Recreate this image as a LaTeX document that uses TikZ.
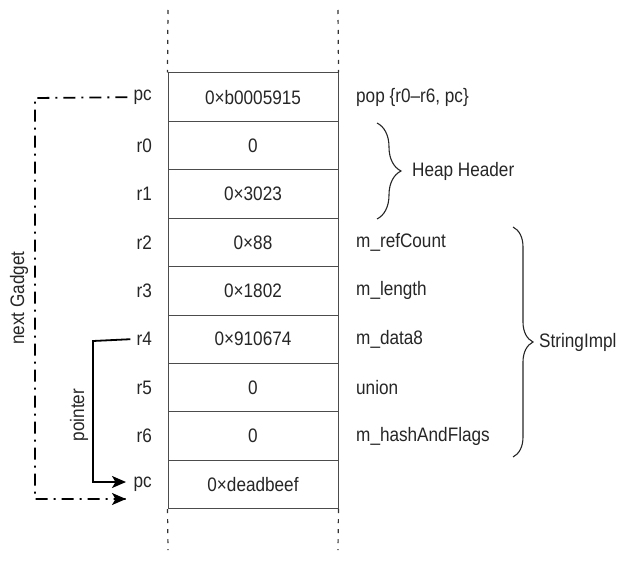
\documentclass[tikz,border=0pt]{standalone}
\usepackage{fontspec}
\setmainfont{Liberation Sans}[FakeStretch=0.88]
\usetikzlibrary{arrows.meta,decorations.pathreplacing}
\begin{document}
\begin{tikzpicture}[x=1pt,y=-1pt,
  every node/.style={font=\fontsize{19.5}{22}\selectfont, text=black!85},
  cell/.style={draw=black!70, line width=1pt, minimum width=170pt, minimum height=48.4pt, inner sep=0pt, anchor=center},
  lbl/.style={anchor=east, inner sep=0pt},
  rlbl/.style={anchor=west, inner sep=0pt},
  guide/.style={draw=black!80, line width=1.2pt, dash pattern=on 4pt off 6pt},
  dashdot/.style={draw=black, line width=1.8pt, dash pattern=on 12pt off 6pt on 2pt off 6pt},
  ptr/.style={draw=black, line width=1.8pt},
  tip/.style={-{Stealth[length=14pt,width=12pt,inset=3.5pt]}},
  bracestyle/.style={draw=black!85, line width=1.1pt, decorate}
]
\useasboundingbox (0,0) rectangle (636,575);
% cells
\foreach \v/\i [count=\k from 0] in {{0\texttimes b0005915}/c0,0/c1,{0\texttimes 3023}/c2,{0\texttimes 88}/c3,{0\texttimes 1802}/c4,{0\texttimes 910674}/c5,0/c6,0/c7,{0\texttimes deadbeef}/c8}
  \node[cell] (\i) at (253, 73+48.4*\k+24.2) {\v};
% left labels
\foreach \t/\i [count=\k from 0] in {pc/l0,r0/l1,r1/l2,r2/l3,r3/l4,r4/l5,r5/l6,r6/l7,pc/l8}
  \node[lbl] (\i) at (152, 73+48.4*\k+24.2) {\t};
% right labels
\node[rlbl] (p0) at (356, 73+24.2) {pop \{r0–r6, pc\}};
\node[rlbl] (p3) at (356, 73+48.4*3+24.2) {m\_refCount};
\node[rlbl] (p4) at (356, 73+48.4*4+24.2) {m\_length};
\node[rlbl] (p5) at (356, 73+48.4*5+24.2) {m\_data8};
\node[rlbl] (p6) at (356, 73+48.4*6+24.2) {union};
\node[rlbl] (p7) at (356, 73+48.4*7+24.2) {m\_hashAndFlags};
% guides
\coordinate (gt1) at (168,10);
\coordinate (gt2) at (338,10);
\coordinate (gb1) at (168,550);
\coordinate (gb2) at (338,550);
\draw[guide] (gt1) -- (c0.north west);
\draw[guide] (gt2) -- (c0.north east);
\draw[guide] (c8.south west) -- (gb1);
\draw[guide] (c8.south east) -- (gb2);
% braces
\coordinate (hb1) at (377,123);
\coordinate (hb2) at (377,219);
\draw[bracestyle, decoration={brace, amplitude=24pt, aspect=0.5}] (hb1) -- (hb2);
\node[rlbl] (hh) at (412,171) {Heap Header};
\coordinate (sb1) at (513,227);
\coordinate (sb2) at (513,457);
\draw[bracestyle, decoration={brace, amplitude=20pt, aspect=0.5}] (sb1) -- (sb2);
\node[rlbl] (si) at (539,342) {StringImpl};
% next gadget
\coordinate (ng1) at (35,98);
\coordinate (ng2) at (35,499);
\coordinate (ngend) at (126,499);
\coordinate (ngpre) at (122,499);
\draw[dashdot] ([xshift=-6pt]l0.west) -- (ng1) -- (ng2) -- (ngend);
\draw[ptr, tip] (ngpre) -- (ngend);
\node[rotate=90] (ngt) at (19,298) {next Gadget};
% pointer
\coordinate (pt1) at (93,341);
\coordinate (pt2) at (93,482);
\coordinate (ptend) at (126,482);
\draw[ptr, tip] ([xshift=-6pt]l5.west) -- (pt1) -- (pt2) -- (ptend);
\node[rotate=90] (ptt) at (79,415) {pointer};
\end{tikzpicture}
\end{document}
